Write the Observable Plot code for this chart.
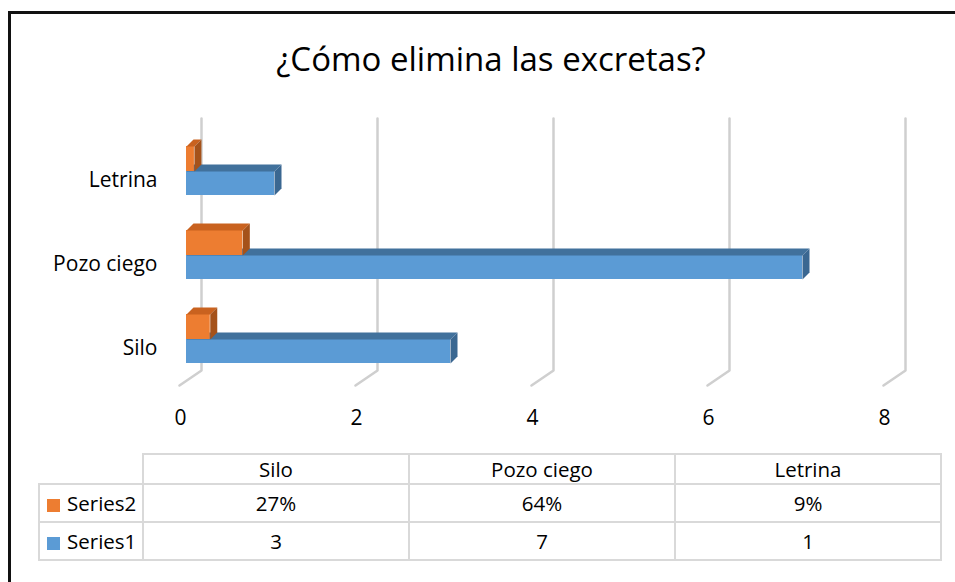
<!DOCTYPE html>
<html><head><meta charset="utf-8">
<script src="https://cdn.jsdelivr.net/npm/d3@7"></script>
<script src="https://cdn.jsdelivr.net/npm/@observablehq/plot@0.6"></script>
<style>
html,body{margin:0;padding:0;background:#fff;}
#wrap{position:relative;width:955px;height:582px;overflow:hidden;font-family:"Open Sans",sans-serif;color:#000;}
#frame{position:absolute;left:8px;top:11px;width:1000px;height:700px;border-top:3px solid #111;border-left:3px solid #111;}
#title{position:absolute;left:141px;width:700px;top:36px;text-align:center;font-size:33px;white-space:nowrap;}
#chart{position:absolute;left:0;top:0;}
table{position:absolute;left:38px;top:453px;border-collapse:collapse;table-layout:fixed;font-size:20.5px;}
td{border:2px solid #d9d9d9;text-align:center;padding:0;white-space:nowrap;}
td.leg{text-align:left;padding-left:7px;}
.sw{display:inline-block;width:13px;height:13px;margin-right:7px;vertical-align:-1px;}
</style></head>
<body><div id="wrap"><div id="frame"></div><div id="title"></div><div id="chart"></div><table id="tbl"></table></div>
<script>
// ---- data ----
const title = "¿Cómo elimina las excretas?";
const categories = ["Silo", "Pozo ciego", "Letrina"];
const series1 = [3, 7, 1];
const series2 = [0.27, 0.64, 0.09];
const seriesNames = ["Series1", "Series2"];
const xTicks = [0, 2, 4, 6, 8];

// ---- styles ----
const colors = {
  Series1: {front: "#5B9BD5", top: "#41719C", side: "#3A6791"},
  Series2: {front: "#ED7D31", top: "#C9621F", side: "#A5521A"}
};

document.getElementById("title").textContent = title;

const xRange = [186, 890], yRange = [390, 138];
const kx = (xRange[1] - xRange[0]) / (xTicks[xTicks.length - 1] - xTicks[0]); // px per x unit
const ky = (yRange[0] - yRange[1]) / categories.length;                        // px per y unit
const px = p => p / kx, py = p => p / ky;
const depth = 7;

// bars: [seriesName, values, top offset px above center, bottom offset px below center]
const barSpecs = [
  ["Series1", series1, 9, -15],
  ["Series2", series2, 34, 9]
];

const marks = [];
// gridlines (back wall + floor)
const grid = [];
xTicks.forEach(t => {
  grid.push({t, x: t + px(15), y: -0.5 + py(272)});
  grid.push({t, x: t + px(15), y: -0.5 + py(20)});
  grid.push({t, x: t - px(7), y: -0.5 + py(5)});
});
marks.push(Plot.line(grid, {x: "x", y: "y", z: "t", stroke: "#cfcfcf", strokeWidth: 2.5}));

barSpecs.forEach(([name, vals, topOff, botOff]) => {
  const c = colors[name];
  const fronts = [], tops = [], sides = [];
  categories.forEach((cat, i) => {
    const v = vals[i];
    const y1 = i + py(topOff), y0 = i + py(botOff);
    fronts.push({x1: 0, x2: v, y1: y0, y2: y1});
    const dX = px(depth), dY = py(depth);
    [[0, y1], [v, y1], [v + dX, y1 + dY], [dX, y1 + dY]].forEach(([x, y]) => tops.push({k: i, x, y}));
    [[v, y1], [v + dX, y1 + dY], [v + dX, y0 + dY], [v, y0]].forEach(([x, y]) => sides.push({k: i, x, y}));
  });
  marks.push(Plot.rect(fronts, {x1: "x1", x2: "x2", y1: "y1", y2: "y2", fill: c.front}));
  marks.push(Plot.line(tops, {x: "x", y: "y", z: "k", fill: c.top, stroke: "none", curve: "linear-closed"}));
  marks.push(Plot.line(sides, {x: "x", y: "y", z: "k", fill: c.side, stroke: "none", curve: "linear-closed"}));
});

marks.push(Plot.axisY({ticks: [0, 1, 2], tickFormat: i => categories[i], tickSize: 0, tickPadding: 3, label: null, fontSize: 21}));
marks.push(Plot.axisX({ticks: xTicks, tickSize: 0, tickPadding: 10, label: null, dx: -6, fontSize: 21}));

const chart = Plot.plot({
  width: 955, height: 440,
  marginLeft: 160, marginRight: 0, marginTop: 0, marginBottom: 40,
  x: {domain: [xTicks[0], xTicks[xTicks.length - 1]], range: xRange},
  y: {domain: [-0.5, categories.length - 0.5], range: yRange},
  style: {fontFamily: "'Open Sans', sans-serif", fontSize: "21px", color: "#000", background: "transparent", overflow: "visible"},
  marks
});
document.getElementById("chart").appendChild(chart);

// data table
const tbl = document.getElementById("tbl");
const colg = document.createElement("colgroup");
[104, 266, 266, 266].forEach(w => { const c = document.createElement("col"); c.style.width = w + "px"; colg.appendChild(c); });
tbl.appendChild(colg);
const hr = tbl.insertRow(); hr.style.height = "29px";
const blank = hr.insertCell(); blank.style.borderTop = "none"; blank.style.borderLeft = "none";
categories.forEach(cat => { hr.insertCell().textContent = cat; });
const pct = d3.format(".0%");
[["Series2", series2.map(pct)], ["Series1", series1.map(String)]].forEach(([name, vals]) => {
  const r = tbl.insertRow(); r.style.height = "38px";
  const lc = r.insertCell(); lc.className = "leg";
  lc.innerHTML = `<span class="sw" style="background:${colors[name].front}"></span>${name}`;
  vals.forEach(v => { r.insertCell().textContent = v; });
});
</script></body></html>
